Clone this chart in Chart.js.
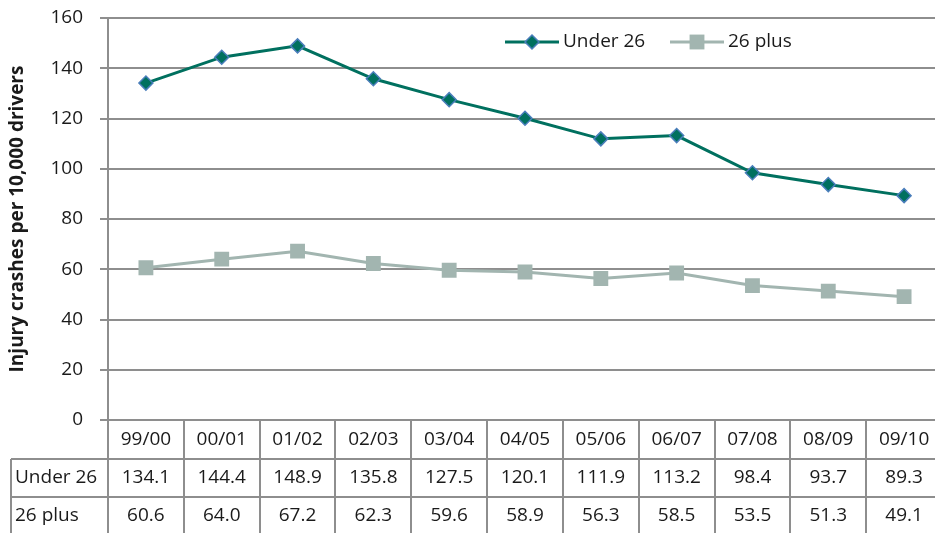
<!DOCTYPE html>
<html>
<head>
<meta charset="utf-8">
<script src="https://cdn.jsdelivr.net/npm/chart.js@4/dist/chart.umd.min.js"></script>
<style>
  html, body { margin: 0; padding: 0; background: #fff; overflow: hidden; }
  #wrap { width: 935px; height: 533px; overflow: hidden; }
  #chartCrashes { display: block; }
</style>
</head>
<body>
<div id="wrap"><canvas id="chartCrashes" width="942" height="533"></canvas></div>
<script>
const years = ['99/00', '00/01', '01/02', '02/03', '03/04', '04/05', '05/06', '06/07', '07/08', '08/09', '09/10'];
const under26 = [134.1, 144.4, 148.9, 135.8, 127.5, 120.1, 111.9, 113.2, 98.4, 93.7, 89.3];
const plus26 = [60.6, 64.0, 67.2, 62.3, 59.6, 58.9, 56.3, 58.5, 53.5, 51.3, 49.1];
const seriesNames = ['Under 26', '26 plus'];

const fontFamily = '"Open Sans", "Noto Sans", sans-serif';
const gridColor = '#8e8e8e';
const textColor = '#1a1a1a';

// Tabla de datos debajo del gráfico
const tablePlugin = {
    id: 'tablaDatos',
    afterDraw(chart) {
        const ctx = chart.ctx;
        const area = chart.chartArea;
        const x = chart.scales.x;
        const bottom = chart.height;
        const rowTop = [area.bottom, 459, 497];
        const half = (x.getPixelForValue(1) - x.getPixelForValue(0)) / 2;

        ctx.save();
        ctx.strokeStyle = gridColor;
        ctx.lineWidth = 2;
        ctx.beginPath();
        // lineas horizontales
        ctx.moveTo(11, rowTop[1]); ctx.lineTo(chart.width, rowTop[1]);
        ctx.moveTo(11, rowTop[2]); ctx.lineTo(chart.width, rowTop[2]);
        // borde izquierdo de las filas
        ctx.moveTo(11, rowTop[1]); ctx.lineTo(11, bottom);
        // eje izquierdo prolongado
        ctx.moveTo(area.left, area.bottom); ctx.lineTo(area.left, bottom);
        years.forEach((y, i) => {
            const bx = Math.round(x.getPixelForValue(i) + half);
            ctx.moveTo(bx, area.bottom); ctx.lineTo(bx, bottom);
        });
        ctx.stroke();

        ctx.fillStyle = textColor;
        ctx.font = '19px ' + fontFamily;
        ctx.textBaseline = 'middle';
        ctx.textAlign = 'left';
        ctx.fillText(seriesNames[0], 15, 478);
        ctx.fillText(seriesNames[1], 15, 516);
        ctx.textAlign = 'center';
        years.forEach((y, i) => {
            const cx = x.getPixelForValue(i);
            ctx.fillText(y, cx, 440);
            ctx.fillText(under26[i].toFixed(1), cx, 478);
            ctx.fillText(plus26[i].toFixed(1), cx, 516);
        });
        ctx.restore();
    }
};

// Leyenda dibujada a mano
const legendPlugin = {
    id: 'leyenda',
    afterDraw(chart) {
        const ctx = chart.ctx;
        const items = [{ x: 505, ds: chart.data.datasets[0] }, { x: 670, ds: chart.data.datasets[1] }];
        const y = 42;
        ctx.save();
        items.forEach(it => {
            const ds = it.ds;
            ctx.strokeStyle = ds.borderColor;
            ctx.lineWidth = ds.borderWidth;
            ctx.beginPath();
            ctx.moveTo(it.x, y); ctx.lineTo(it.x + 54, y);
            ctx.stroke();
            ctx.fillStyle = ds.pointBackgroundColor;
            ctx.strokeStyle = ds.pointBorderColor;
            ctx.lineWidth = ds.pointBorderWidth;
            ctx.beginPath();
            drawMarker(ctx, ds.pointStyle, ds.pointRadius, it.x + 27, y);
            ctx.fill();
            if (ds.pointBorderWidth) ctx.stroke();
            ctx.fillStyle = textColor;
            ctx.font = '19px ' + fontFamily;
            ctx.textBaseline = 'middle';
            ctx.textAlign = 'left';
            ctx.fillText(ds.label, it.x + 58, y);
        });
        ctx.restore();
    }
};

function drawMarker(ctx, style, r, cx, cy) {
    const s = r * Math.SQRT1_2;
    if (style === 'rect') {
        ctx.rect(cx - s, cy - s, 2 * s, 2 * s);
    } else {
        ctx.moveTo(cx, cy - r); ctx.lineTo(cx + r, cy);
        ctx.lineTo(cx, cy + r); ctx.lineTo(cx - r, cy);
        ctx.closePath();
    }
}

new Chart(document.getElementById('chartCrashes').getContext('2d'), {
    type: 'line',
    data: {
        labels: years,
        datasets: [{
            label: seriesNames[0],
            data: under26,
            borderColor: '#00705f',
            borderWidth: 3,
            pointStyle: 'rectRot',
            pointRadius: 7,
            pointBackgroundColor: '#00705f',
            pointBorderColor: '#4a7ebb',
            pointBorderWidth: 1.5,
            tension: 0
        }, {
            label: seriesNames[1],
            data: plus26,
            borderColor: '#a2b5b0',
            borderWidth: 3,
            pointStyle: 'rect',
            pointRadius: 10.5,
            pointBackgroundColor: '#a2b5b0',
            pointBorderColor: '#a2b5b0',
            pointBorderWidth: 0,
            tension: 0
        }]
    },
    options: {
        responsive: false,
        animation: false,
        layout: { autoPadding: false, padding: { top: 18, bottom: 113, left: 0, right: 0 } },
        plugins: { legend: { display: false }, tooltip: { enabled: false } },
        scales: {
            x: {
                display: false,
                offset: true
            },
            y: {
                min: 0,
                max: 160,
                afterFit(scale) {
                    scale.width = 108;
                    scale.paddingTop = 0;
                    scale.paddingBottom = 0;
                },
                ticks: {
                    stepSize: 20,
                    color: textColor,
                    padding: 17,
                    font: { family: fontFamily, size: 19 }
                },
                grid: {
                    color: gridColor,
                    lineWidth: 2,
                    tickLength: 8
                },
                border: { color: gridColor, width: 2 },
                title: {
                    display: true,
                    text: 'Injury crashes per 10,000 drivers',
                    color: textColor,
                    padding: { top: 6, bottom: 0 },
                    font: { family: fontFamily, size: 19, weight: 'bold' }
                }
            }
        }
    },
    plugins: [tablePlugin, legendPlugin]
});
</script>
</body>
</html>
